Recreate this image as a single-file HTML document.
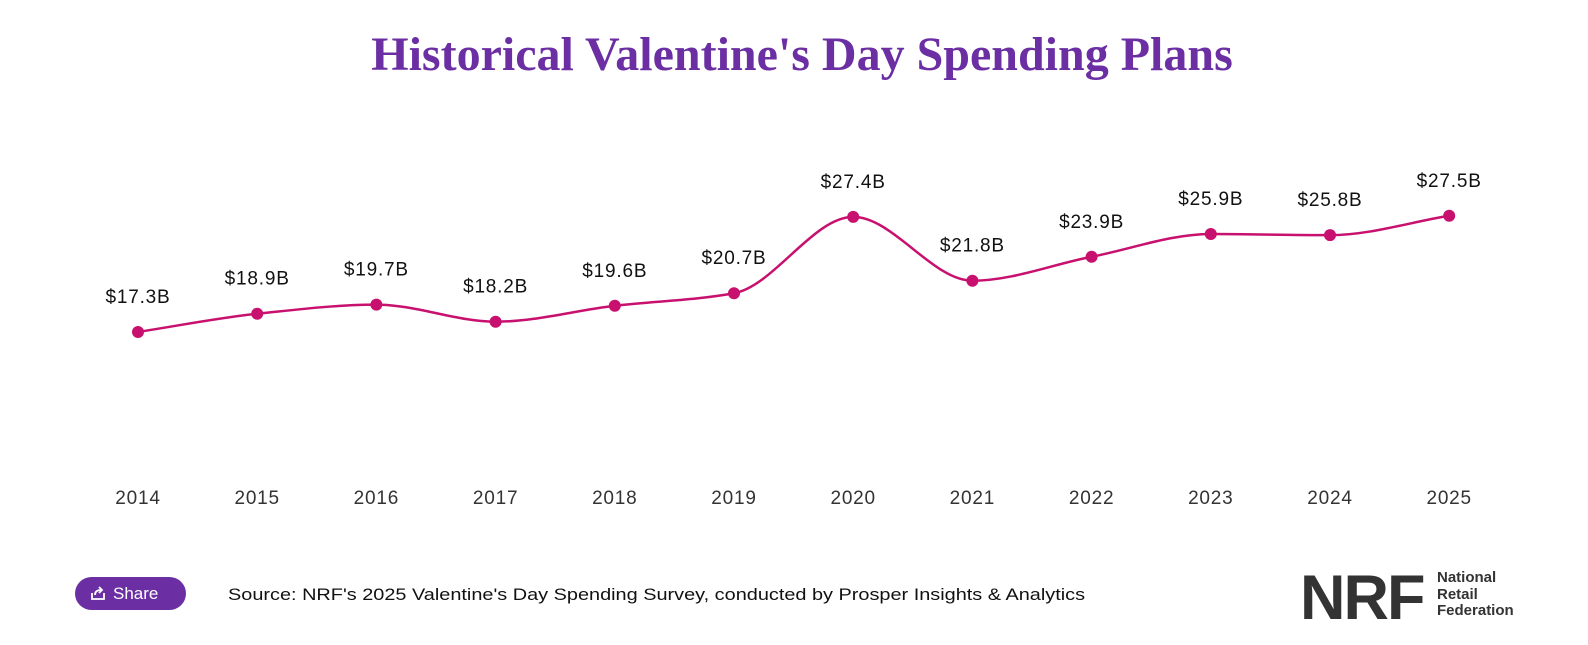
<!DOCTYPE html>
<html><head><meta charset="utf-8"><style>
body{margin:0;background:#fff;width:1588px;height:645px;overflow:hidden;position:relative;font-family:"Liberation Sans",sans-serif}
#title{position:absolute;left:0;width:1604px;top:27px;text-align:center;font-family:"Liberation Serif",serif;font-weight:bold;font-size:48px;color:#6b2fa3}
#share{position:absolute;left:75px;top:577px;width:111px;height:33px;border-radius:17px;background:#6b2fa3;color:#fff;font-size:17px;line-height:33px;box-sizing:border-box;padding-left:38px}
#src{position:absolute;left:228px;top:585px;font-size:17px;color:#111;transform:scaleX(1.17);transform-origin:left;white-space:nowrap}
#nrf{position:absolute;left:1300px;top:562px;font-size:63px;font-weight:bold;color:#333;letter-spacing:-2px}
#nrft{position:absolute;left:1437px;top:570px;font-size:15px;font-weight:bold;color:#333;line-height:16.5px}
</style></head><body>
<div id="title">Historical Valentine's Day Spending Plans</div>
<svg id="chart" width="1588" height="645" style="position:absolute;left:0;top:0"></svg>
<div id="share"><svg width="16" height="16" style="position:absolute;left:15px;top:8px" viewBox="0 0 16 16"><path d="M2 8v6h12V8" fill="none" stroke="#fff" stroke-width="1.8"/><path d="M5 10 C5 6 8 5 11 5 M9 2l3 3-3 3" fill="none" stroke="#fff" stroke-width="1.8"/></svg>Share</div>
<div id="src">Source: NRF's 2025 Valentine's Day Spending Survey, conducted by Prosper Insights &amp; Analytics</div>
<div id="nrf">NRF</div>
<div id="nrft">National<br>Retail<br>Federation</div>
<script>
const years=["2014","2015","2016","2017","2018","2019","2020","2021","2022","2023","2024","2025"];
const values=[17.3,18.9,19.7,18.2,19.6,20.7,27.4,21.8,23.9,25.9,25.8,27.5];
const labels=["$17.3B","$18.9B","$19.7B","$18.2B","$19.6B","$20.7B","$27.4B","$21.8B","$23.9B","$25.9B","$25.8B","$27.5B"];
const NS="http://www.w3.org/2000/svg";
const svg=document.getElementById('chart');
const x=i=>138+i*119.2;
const y=v=>529-v*11.39;
const P=values.map((v,i)=>[x(i),y(v)]);
const n=P.length,d=[],m=[];
for(let i=0;i<n-1;i++)d.push((P[i+1][1]-P[i][1])/(P[i+1][0]-P[i][0]));
for(let i=0;i<n;i++){
 if(i==0)m.push(d[0]);else if(i==n-1)m.push(d[n-2]);
 else m.push(d[i-1]*d[i]<=0?0:(2*d[i-1]*d[i])/(d[i-1]+d[i]));
}
let path=`M${P[0][0]},${P[0][1]}`;
for(let i=0;i<n-1;i++){const h=(P[i+1][0]-P[i][0])/3;
 path+=` C${P[i][0]+h},${P[i][1]+m[i]*h} ${P[i+1][0]-h},${P[i+1][1]-m[i+1]*h} ${P[i+1][0]},${P[i+1][1]}`;}
const line=document.createElementNS(NS,'path');
line.setAttribute('d',path);line.setAttribute('fill','none');line.setAttribute('stroke','#c8106e');line.setAttribute('stroke-width','2.5');


svg.appendChild(line);
values.forEach((v,i)=>{
 const c=document.createElementNS(NS,'circle');
 c.setAttribute('cx',x(i));c.setAttribute('cy',y(v));c.setAttribute('r','6');c.setAttribute('fill','#c8106e');
 
 
 svg.appendChild(c);
 const t=document.createElementNS(NS,'text');
 t.setAttribute('x',x(i));t.setAttribute('y',y(v)-29);t.setAttribute('text-anchor','middle');
 t.setAttribute('font-size','19');t.setAttribute('letter-spacing','0.8');t.setAttribute('fill','#111');t.setAttribute('font-family','Liberation Sans, sans-serif');
 t.textContent=labels[i];
 
 
 svg.appendChild(t);
 const yl=document.createElementNS(NS,'text');
 yl.setAttribute('x',x(i));yl.setAttribute('y',504);yl.setAttribute('text-anchor','middle');
 yl.setAttribute('font-size','19');yl.setAttribute('letter-spacing','0.8');yl.setAttribute('fill','#333');yl.setAttribute('font-family','Liberation Sans, sans-serif');
 yl.textContent=years[i];
 
 
 svg.appendChild(yl);
});
</script>
</body></html>
